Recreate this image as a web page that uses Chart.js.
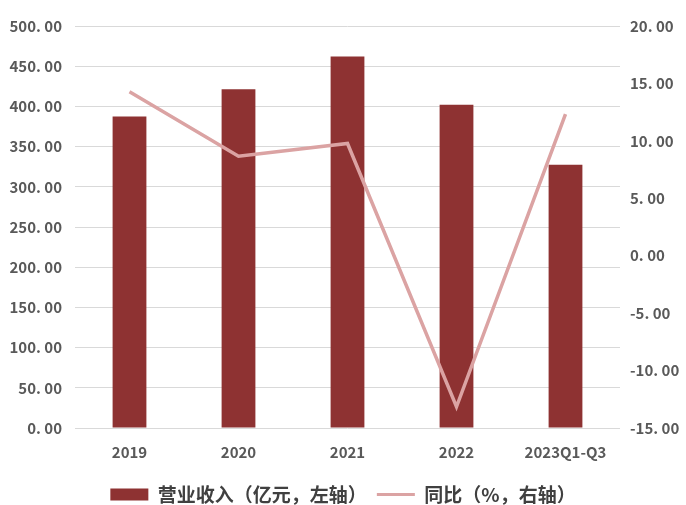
<!DOCTYPE html>
<html>
<head>
<meta charset="utf-8">
<script src="https://cdn.jsdelivr.net/npm/chart.js@4/dist/chart.umd.min.js"></script>
<style>
  html, body { margin: 0; padding: 0; background: #ffffff; }
  #wrap { width: 686px; height: 505px; }
</style>
</head>
<body>
<div id="wrap"><canvas id="c" width="686" height="505"></canvas></div>
<script>
// Categories and series
const categories = ['2019', '2020', '2021', '2022', '2023Q1-Q3'];
const revenue = [387.3, 421.4, 462.0, 401.9, 327.3];      // 营业收入（亿元）
const yoyGrowth = [14.27, 8.67, 9.77, -13.15, 12.32];     // 同比（%）
const leftTicks = [0, 50, 100, 150, 200, 250, 300, 350, 400, 450, 500];
const rightTicks = [-15, -10, -5, 0, 5, 10, 15, 20];
const seriesNames = ['营业收入（亿元，左轴）', '同比（%，右轴）'];

const BAR_COLOR = '#8e3232';
const LINE_COLOR = '#dba3a3';
const FONT = '"Noto Sans CJK SC", "Noto Sans", sans-serif';
const TICK_FONT = { family: FONT, size: 15, weight: 600 };

const fmt = v => v.toFixed(2).replace('.', '. ');

// Drop the legend row a few pixels lower, closer to the bottom edge
const legendDrop = {
  id: 'legendDrop',
  afterLayout(chart) {
    const lg = chart.legend;
    if (lg) { lg.top += 9; lg.bottom += 9; }
  }
};

new Chart(document.getElementById('c'), {
  type: 'bar',
  plugins: [legendDrop],
  data: {
    labels: categories,
    datasets: [
      {
        type: 'line',
        label: seriesNames[1],
        data: yoyGrowth,
        yAxisID: 'yR',
        borderColor: LINE_COLOR,
        backgroundColor: LINE_COLOR,
        borderWidth: 3.5,
        pointRadius: 0,
        tension: 0,
        order: 0
      },
      {
        type: 'bar',
        label: seriesNames[0],
        data: revenue,
        yAxisID: 'yL',
        backgroundColor: BAR_COLOR,
        borderWidth: 0,
        categoryPercentage: 1,
        barPercentage: 0.31,
        order: 1
      }
    ]
  },
  options: {
    responsive: false,
    animation: false,
    layout: { padding: { top: 26, left: 0, right: 0, bottom: 0 } },
    plugins: {
      tooltip: { enabled: false },
      legend: {
        position: 'bottom',
        reverse: true,
        labels: {
          font: { family: FONT, size: 19, weight: 600 },
          color: '#404040',
          usePointStyle: true,
          pointStyleWidth: 38,
          boxHeight: 12,
          padding: 10,
          generateLabels(chart) {
            return chart.data.datasets.map((ds, i) => ({
              text: ds.label,
              datasetIndex: i,
              fillStyle: ds.type === 'bar' ? BAR_COLOR : LINE_COLOR,
              strokeStyle: ds.type === 'bar' ? BAR_COLOR : LINE_COLOR,
              lineWidth: ds.type === 'bar' ? 0 : 3,
              pointStyle: ds.type === 'bar' ? 'rect' : 'line',
              fontColor: '#404040',
              hidden: false
            }));
          }
        }
      }
    },
    scales: {
      x: {
        grid: { display: false, drawTicks: false },
        border: { display: false },
        ticks: {
          font: TICK_FONT,
          color: '#595959',
          padding: 15,
          maxRotation: 0,
          autoSkip: false
        },
        afterFit(scale) { scale.height = 38; }
      },
      yL: {
        position: 'left',
        min: 0,
        max: 500,
        afterBuildTicks(scale) { scale.ticks = leftTicks.map(v => ({ value: v })); },
        grid: { color: '#d9d9d9', lineWidth: 1, drawTicks: false },
        border: { display: false },
        ticks: {
          font: TICK_FONT,
          color: '#595959',
          padding: 13,
          callback: v => fmt(v)
        },
        afterFit(scale) { scale.width = 75; }
      },
      yR: {
        position: 'right',
        min: -15,
        max: 20,
        afterBuildTicks(scale) { scale.ticks = rightTicks.map(v => ({ value: v })); },
        grid: { display: false, drawTicks: false },
        border: { display: false },
        ticks: {
          font: TICK_FONT,
          color: '#595959',
          padding: 10,
          callback: v => fmt(v)
        },
        afterFit(scale) { scale.width = 66; }
      }
    }
  }
});
</script>
</body>
</html>
